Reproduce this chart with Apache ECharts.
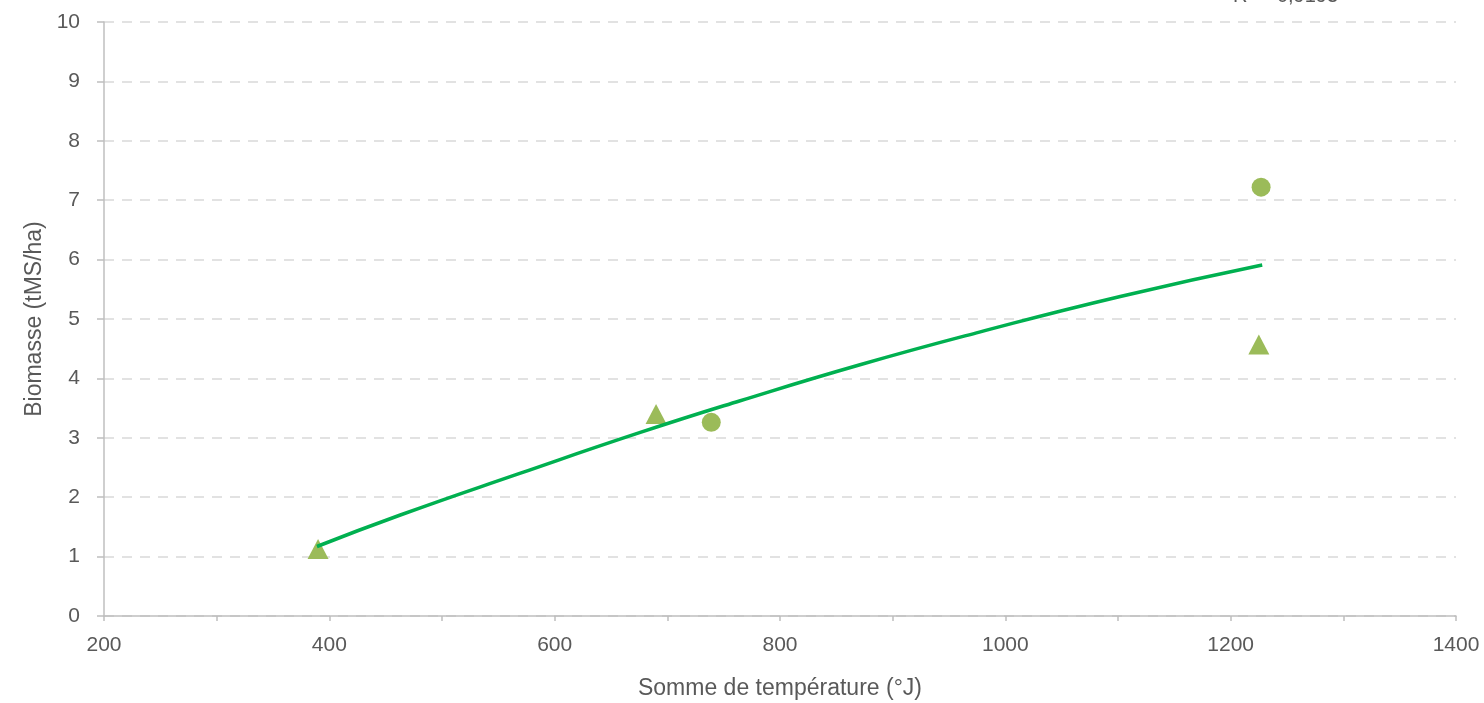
<!DOCTYPE html>
<html>
<head>
<meta charset="utf-8">
<script src="https://cdn.jsdelivr.net/npm/echarts@6/dist/echarts.min.js"></script>
<style>
html, body { margin: 0; padding: 0; background: #fff; }
#chart { width: 1484px; height: 703px; }
</style>
</head>
<body>
<div id="chart"></div>
<script>
// points
var circleX = [739, 1227];
var circleY = [3.26, 7.22];
var triangleX = [390, 690, 1225];
var triangleY = [1.13, 3.40, 4.57];
// trend line
var trendX = [389, 463, 569, 676, 764, 871, 977, 1102, 1228];
var trendY = [1.17, 1.70, 2.40, 3.09, 3.62, 4.23, 4.78, 5.38, 5.91];
var xTicks = [200, 400, 600, 800, 1000, 1200, 1400];
var r2Label = 'R² = 0,9193';

function pairs(xs, ys) {
	var out = [];
	for (var i = 0; i < xs.length; i++) {
		out.push([xs[i], ys[i]]);
	}
	return out;
}

var chart = echarts.init(document.getElementById('chart'));
var font = 'Liberation Sans, Arial, sans-serif';

var option = {
	animation: false,
	grid: {
		left: 104,
		right: 28,
		top: 22,
		bottom: 87,
		containLabel: false,
		outerBoundsMode: 'none'
	},
	xAxis: {
		type: 'value',
		min: 200,
		max: 1400,
		interval: 100,
		name: 'Somme de température (°J)',
		nameLocation: 'middle',
		nameGap: 61,
		nameTextStyle: { color: '#595959', fontSize: 23, fontFamily: font },
		axisLine: { lineStyle: { color: '#BFBFBF', width: 1.5 } },
		axisTick: { show: true, length: 5, lineStyle: { color: '#BFBFBF', width: 1.5 } },
		axisLabel: {
			color: '#595959',
			fontSize: 21,
			fontFamily: font,
			margin: 19,
			formatter: function(v) {
				return xTicks.indexOf(v) >= 0 ? String(v) : '';
			}
		},
		splitLine: { show: false }
	},
	yAxis: {
		type: 'value',
		min: 0,
		max: 10,
		interval: 1,
		name: 'Biomasse (tMS/ha)',
		nameLocation: 'middle',
		nameGap: 57,
		nameTextStyle: { color: '#595959', fontSize: 23, fontFamily: font },
		axisLine: { show: true, lineStyle: { color: '#BFBFBF', width: 1.5 } },
		axisTick: { show: true, length: 7, lineStyle: { color: '#BFBFBF', width: 1.5 } },
		axisLabel: { color: '#595959', fontSize: 21, fontFamily: font, margin: 24 },
		splitLine: { show: true, lineStyle: { color: '#D9D9D9', width: 1.5, type: [10, 8] } }
	},
	series: [
		{
			name: 'tendance',
			type: 'line',
			data: pairs(trendX, trendY),
			smooth: true,
			showSymbol: false,
			lineStyle: { color: '#00B050', width: 3.5 },
			z: 3
		},
		{
			name: 'ronds',
			type: 'scatter',
			symbol: 'circle',
			symbolSize: 19,
			data: pairs(circleX, circleY),
			itemStyle: { color: '#9BBB59', opacity: 1 },
			z: 2
		},
		{
			name: 'triangles',
			type: 'scatter',
			symbol: 'triangle',
			symbolSize: [21, 20],
			data: pairs(triangleX, triangleY),
			itemStyle: { color: '#9BBB59', opacity: 1 },
			z: 2
		}
	],
	graphic: [
		{
			type: 'text',
			left: 1233,
			top: -14,
			style: {
				text: r2Label,
				fill: '#595959',
				fontSize: 20,
				fontFamily: font
			}
		}
	]
};

chart.setOption(option);
</script>
</body>
</html>
